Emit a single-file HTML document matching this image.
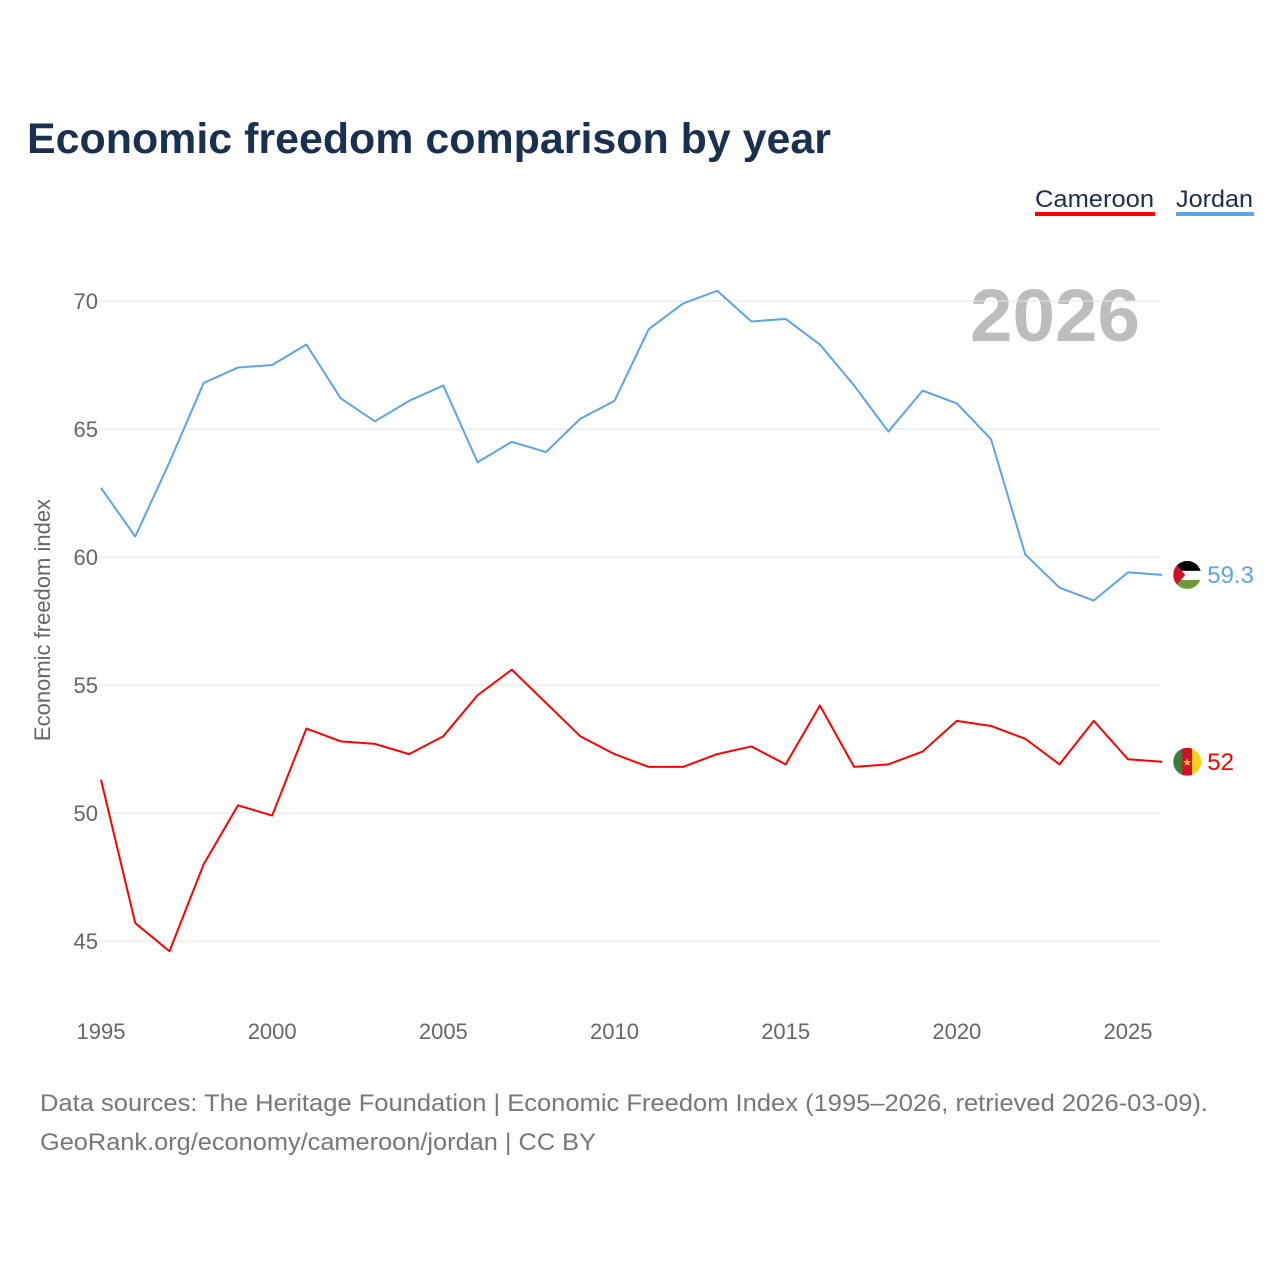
<!DOCTYPE html>
<html><head><meta charset="utf-8">
<style>
body{margin:0;background:#fff;font-family:"Liberation Sans",sans-serif;}
#wrap{position:relative;width:1280px;height:1280px;overflow:hidden;}
</style></head>
<body><div id="wrap">
<svg id="chart" width="1280" height="1280">
<text x="27" y="153" font-size="43" font-weight="bold" fill="#1a3050" textLength="804" lengthAdjust="spacingAndGlyphs">Economic freedom comparison by year</text>
<g>
<text x="1035" y="207" font-size="24" fill="#1a3050" textLength="119" lengthAdjust="spacingAndGlyphs">Cameroon</text>
<rect x="1035" y="212" width="120" height="4" fill="#ff0000"/>
<text x="1176" y="207" font-size="24" fill="#1a3050" textLength="77" lengthAdjust="spacingAndGlyphs">Jordan</text>
<rect x="1176" y="212" width="78" height="4" fill="#5ba4e8"/>
</g>
<text x="1140" y="341" font-size="74" font-weight="bold" fill="#bdbdbd" text-anchor="end" textLength="170" lengthAdjust="spacingAndGlyphs">2026</text>
<text transform="translate(50,620) rotate(-90)" font-size="22" fill="#666" text-anchor="middle">Economic freedom index</text>
<g id="grid"></g><g id="series"></g>
<text x="40" y="1111" font-size="24" fill="#777" textLength="1168" lengthAdjust="spacingAndGlyphs">Data sources: The Heritage Foundation | Economic Freedom Index (1995–2026, retrieved 2026-03-09).</text>
<text x="40" y="1150" font-size="24" fill="#777" textLength="556" lengthAdjust="spacingAndGlyphs">GeoRank.org/economy/cameroon/jordan | CC BY</text>
</svg></div>
<script>
const years=[1995,1996,1997,1998,1999,2000,2001,2002,2003,2004,2005,2006,2007,2008,2009,2010,2011,2012,2013,2014,2015,2016,2017,2018,2019,2020,2021,2022,2023,2024,2025,2026];
const jordan=[62.7,60.8,63.7,66.8,67.4,67.5,68.3,66.2,65.3,66.1,66.7,63.7,64.5,64.1,65.4,66.1,68.9,69.9,70.4,69.2,69.3,68.3,66.7,64.9,66.5,66.0,64.6,60.1,58.8,58.3,59.4,59.3];
const cameroon=[51.3,45.7,44.6,48.0,50.3,49.9,53.3,52.8,52.7,52.3,53.0,54.6,55.6,54.3,53.0,52.3,51.8,51.8,52.3,52.6,51.9,54.2,51.8,51.9,52.4,53.6,53.4,52.9,51.9,53.6,52.1,52.0];
const yTicks=[45,50,55,60,65,70];
const xTicks=[1995,2000,2005,2010,2015,2020,2025];
const NS="http://www.w3.org/2000/svg";
const x=v=>101+(v-1995)*(1128-101)/30;
const y=v=>301+(70-v)*25.6;
const grid=document.getElementById('grid'),ser=document.getElementById('series');
function mk(tag,attrs,parent){const e=document.createElementNS(NS,tag);for(const k in attrs)e.setAttribute(k,attrs[k]);parent.appendChild(e);return e;}
yTicks.forEach(t=>{
 const l=mk('line',{x1:95,x2:1162,y1:y(t),y2:y(t),stroke:'#e6e6e6','stroke-width':1},grid);
 
 
 const tx=mk('text',{x:98,y:y(t)+8,'font-size':22,fill:'#666','text-anchor':'end'},grid);tx.textContent=t;
 
 
});
xTicks.forEach(t=>{
 const tx=mk('text',{x:x(t),y:1039,'font-size':22,fill:'#666','text-anchor':'middle'},grid);tx.textContent=t;
 
 
});
function draw(vals,color,name,label){
 const p=mk('polyline',{points:vals.map((v,i)=>x(years[i])+','+y(v)).join(' '),fill:'none',stroke:color,'stroke-width':2,'stroke-linejoin':'round'},ser);
 
 
 const lv=vals[vals.length-1],cx=x(years[years.length-1])+25,cy=y(lv);
 const g=mk('g',{},ser);
 
 
 if(name==='jordan'){
  mk('clipPath',{id:'cj'},g);
  const cp=g.lastChild;mk('circle',{cx:cx,cy:cy,r:14},cp);
  const gg=mk('g',{'clip-path':'url(#cj)'},g);
  mk('rect',{x:cx-14,y:cy-14,width:28,height:10,fill:'#000'},gg);
  mk('rect',{x:cx-14,y:cy-4,width:28,height:9,fill:'#fff'},gg);
  mk('rect',{x:cx-14,y:cy+5,width:28,height:10,fill:'#6a9a3a'},gg);
  mk('polygon',{points:`${cx-14},${cy-14} ${cx-2},${cy} ${cx-14},${cy+14}`,fill:'#ce1126'},gg);
 } else {
  mk('clipPath',{id:'cc'},g);
  const cp=g.lastChild;mk('circle',{cx:cx,cy:cy,r:14},cp);
  const gg=mk('g',{'clip-path':'url(#cc)'},g);
  mk('rect',{x:cx-14,y:cy-14,width:10,height:28,fill:'#3a7a3a'},gg);
  mk('rect',{x:cx-5,y:cy-14,width:10,height:28,fill:'#ce1126'},gg);
  mk('rect',{x:cx+5,y:cy-14,width:10,height:28,fill:'#fcd116'},gg);
  const s=mk('text',{x:cx,y:cy+4,'font-size':11,fill:'#fcd116','text-anchor':'middle'},gg);s.textContent='★';
 }
 const t=mk('text',{x:cx+20,y:cy+8,'font-size':24,fill:color},ser);t.textContent=label;
 
 
}
draw(jordan,'#5ba4e8','jordan','59.3');
draw(cameroon,'#ff0000','cameroon','52');
</script>
</body></html>
